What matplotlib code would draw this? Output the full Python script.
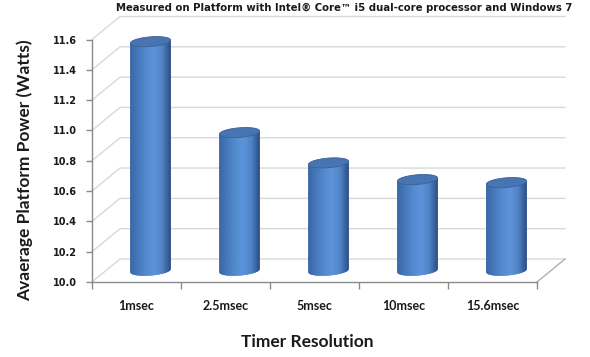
import numpy as np
import matplotlib
matplotlib.use('Agg')
import matplotlib.pyplot as plt
from matplotlib.lines import Line2D
from matplotlib.patches import Polygon
from matplotlib.collections import PolyCollection
from matplotlib.transforms import IdentityTransform
from matplotlib.colors import LinearSegmentedColormap

# data
categories = ['1msec', '2.5msec', '5msec', '10msec', '15.6msec']
power = [11.51, 10.91, 10.71, 10.60, 10.58]
y_ticks = [10.0, 10.2, 10.4, 10.6, 10.8, 11.0, 11.2, 11.4, 11.6]

title = 'Measured on Platform with Intel\u00ae Core\u2122 i5 dual-core processor and Windows 7'
xlabel = 'Timer Resolution'
ylabel = 'Avaerage Platform Power (Watts)'

W, H = 590, 357
fig = plt.figure(figsize=(W / 100, H / 100), dpi=100)
ax = fig.add_axes([92 / W, 1 - 282 / H, (537 - 92) / W, (282 - 39.5) / H])
ax.set_xlim(-0.5, len(categories) - 0.5)
ax.set_ylim(y_ticks[0], y_ticks[-1])
ax.patch.set_visible(False)

# oblique depth of the 3d box, in pixels (x right, y up)
DEPTH = np.array([28.0, 23.0])
ident = IdentityTransform()
axis_grey = '#8a8a8a'
grid_grey = '#d9d9d9'


def px(x, y, d=0.0):
    # data point -> display pixels, pushed back d of the box depth
    return ax.transData.transform((x, y)) + d * DEPTH


# walls: gridlines run along the left side wall and the back wall
x_lo, x_hi = ax.get_xlim()
for v in y_ticks:
    p0 = px(x_lo, v)
    p1 = px(x_lo, v, 1)
    p2 = px(x_hi, v, 1)
    ax.add_line(Line2D([p0[0], p1[0], p2[0]], [p0[1], p1[1], p2[1]],
                       transform=ident, color=grid_grey, lw=1.0,
                       clip_on=False, zorder=1))
# right edge of the floor
q0 = px(x_hi, y_ticks[0])
q1 = px(x_hi, y_ticks[0], 1)
ax.add_line(Line2D([q0[0], q1[0]], [q0[1], q1[1]], transform=ident,
                   color='#b0b0b0', lw=1.0, clip_on=False, zorder=1))

# cylinders
cyl_cmap = LinearSegmentedColormap.from_list(
    'cyl', ['#3866a6', '#4577bb', '#5189cf', '#5b92da', '#4f84c8', '#2d5189'])
bar_width = 0.43
depth_r = 0.22
nstrip = 60
for i, v in enumerate(power):
    b = px(i, y_ticks[0], 0.5)
    t = px(i, v, 0.5)
    a = (px(i + bar_width / 2, v)[0] - px(i - bar_width / 2, v)[0]) / 2
    sx, sy = depth_r * DEPTH
    t0 = np.arctan2(sx, a)
    ts = np.linspace(np.pi + t0, 2 * np.pi + t0, 120)
    ex = a * np.cos(ts) + sx * np.sin(ts)
    ey = sy * np.sin(ts)
    R = np.hypot(a, sx)
    edges = np.linspace(-R, R, nstrip + 1)
    ye = np.interp(edges, ex, ey)
    quads = []
    for k in range(nstrip):
        x0, x1 = edges[k], edges[k + 1]
        quads.append([[b[0] + x0, b[1] + ye[k]], [b[0] + x1, b[1] + ye[k + 1]],
                      [t[0] + x1, t[1] + ye[k + 1]], [t[0] + x0, t[1] + ye[k]]])
    cols = cyl_cmap(np.linspace(0, 1, nstrip))
    pc = PolyCollection(quads, facecolors=cols, edgecolors=cols, linewidths=0.4,
                        transform=ident, clip_on=False, zorder=3)
    ax.add_collection(pc, autolim=False)
    tf = np.linspace(0, 2 * np.pi, 120)
    cap = np.column_stack([t[0] + a * np.cos(tf) + sx * np.sin(tf),
                           t[1] + sy * np.sin(tf)])
    ax.add_patch(Polygon(cap, closed=True, facecolor='#4874b2',
                         edgecolor='#3a6098', lw=0.6, transform=ident,
                         clip_on=False, zorder=4))

# front axes
for s in ['top', 'right']:
    ax.spines[s].set_visible(False)
for s in ['left', 'bottom']:
    ax.spines[s].set_color(axis_grey)
    ax.spines[s].set_linewidth(1.0)
    ax.spines[s].set_zorder(2)

ax.set_yticks(y_ticks)
ax.set_yticklabels(['%.1f' % v for v in y_ticks], fontsize=7, fontweight='bold',
                   color='#1a1a1a')
ax.tick_params(axis='y', direction='out', length=4, width=1, color=axis_grey, pad=7)

ax.set_xticks(range(len(categories)))
ax.set_xticklabels(categories, fontsize=9, fontweight='bold', family='Lato',
                   color='#1a1a1a')
ax.set_xticks(np.arange(-0.5, len(categories)), minor=True)
ax.tick_params(axis='x', which='major', length=0, pad=13)
ax.tick_params(axis='x', which='minor', direction='out', length=5, width=1,
               color=axis_grey)

fig.text(344 / W, 1 - 7.5 / H, title, ha='center', va='center', fontsize=7.3,
         fontweight='bold', color='#1a1a1a')
fig.text(307 / W, 1 - 342 / H, xlabel, ha='center', va='center', fontsize=12.5,
         fontweight='bold', family='Lato', color='#1a1a1a')
fig.text(25 / W, 1 - 170 / H, ylabel, ha='center', va='center', rotation=90,
         fontsize=12.5, fontweight='bold', family='Lato', color='#1a1a1a')

fig.savefig('out.png', dpi=100, facecolor='white')
